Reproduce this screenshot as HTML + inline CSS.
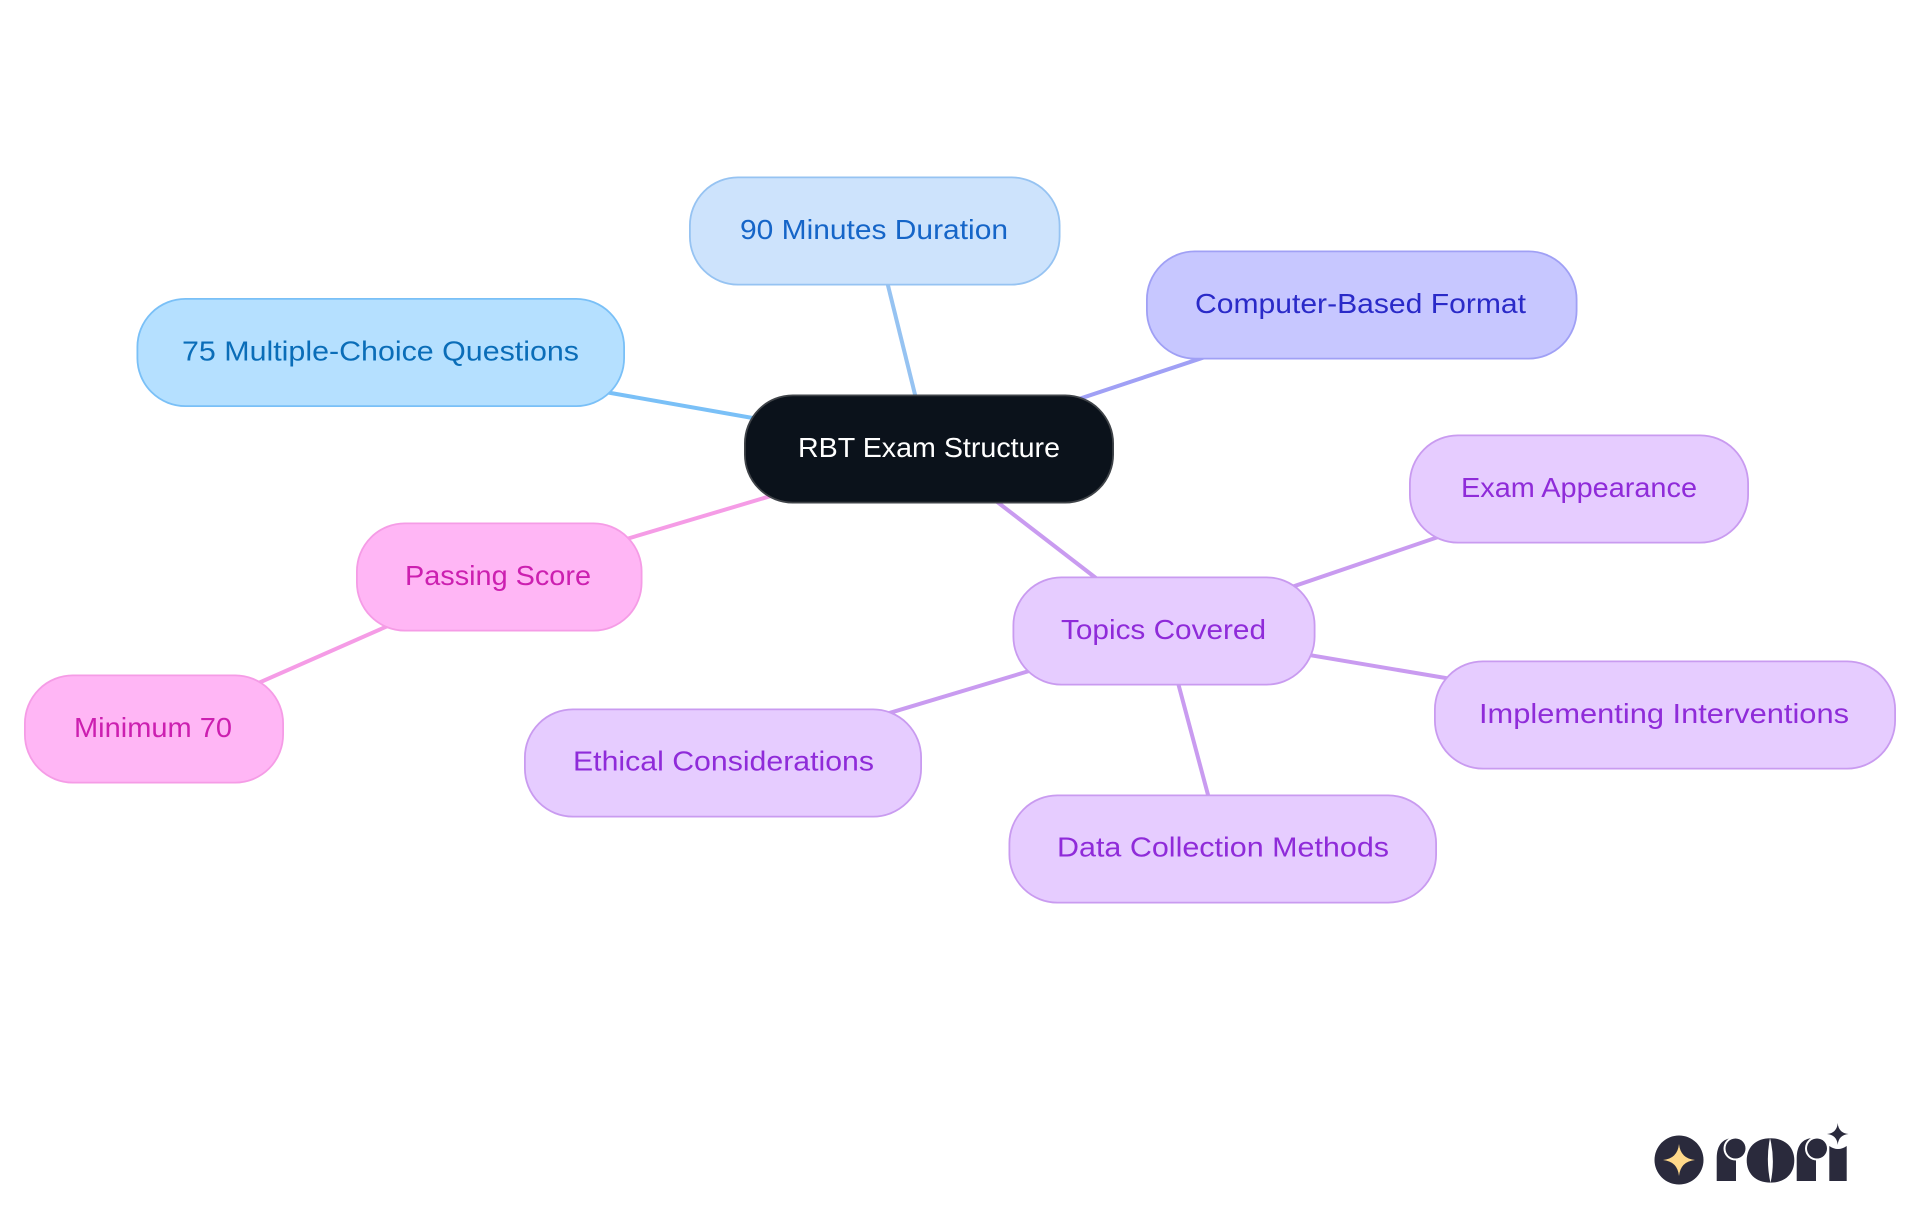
<!DOCTYPE html>
<html>
<head>
<meta charset="utf-8">
<style>
html,body{margin:0;padding:0;background:#fff;width:1920px;height:1215px;overflow:hidden}
svg{display:block}
text{font-family:"Liberation Sans",sans-serif;font-size:28px}
</style>
</head>
<body>
<svg width="1920" height="1215" viewBox="0 0 1920 1215" xmlns="http://www.w3.org/2000/svg">
<rect width="1920" height="1215" fill="#fff"/>
<g fill="none" stroke-width="4">
<line x1="928.5" y1="449" x2="381" y2="352.5" stroke="#7AC0F7"/>
<line x1="928.5" y1="449" x2="874.5" y2="231" stroke="#96C3F2"/>
<line x1="928.5" y1="449" x2="1361.5" y2="305" stroke="#A0A0F5"/>
<line x1="928.5" y1="449" x2="1164" y2="630.5" stroke="#C99BF0"/>
<line x1="928.5" y1="449" x2="499" y2="577" stroke="#F59CE6"/>
<line x1="499" y1="577" x2="154" y2="729" stroke="#F59CE6"/>
<line x1="1164" y1="630.5" x2="1579" y2="489" stroke="#C99BF0"/>
<line x1="1164" y1="630.5" x2="1665" y2="715" stroke="#C99BF0"/>
<line x1="1164" y1="630.5" x2="723" y2="763" stroke="#C99BF0"/>
<line x1="1164" y1="630.5" x2="1222.5" y2="849" stroke="#C99BF0"/>
</g>
<g stroke-width="1.8">
<rect x="744.9" y="395.4" width="368.2" height="107.2" rx="48" fill="#0B121B" stroke="#3F4348"/>
<rect x="137.4" y="298.9" width="486.7" height="107.2" rx="48" fill="#B5E0FF" stroke="#7AC0F7"/>
<rect x="689.9" y="177.4" width="369.7" height="107.2" rx="48" fill="#CDE3FC" stroke="#96C3F2"/>
<rect x="1146.9" y="251.4" width="429.7" height="107.2" rx="48" fill="#C7C7FF" stroke="#A0A0F5"/>
<rect x="356.9" y="523.4" width="284.7" height="107.2" rx="48" fill="#FFB6F5" stroke="#F59CE6"/>
<rect x="24.9" y="675.4" width="258.2" height="107.2" rx="48" fill="#FFB6F5" stroke="#F59CE6"/>
<rect x="1013.4" y="577.4" width="301.2" height="107.2" rx="48" fill="#E6CCFF" stroke="#C99BF0"/>
<rect x="1409.9" y="435.4" width="338.2" height="107.2" rx="48" fill="#E6CCFF" stroke="#C99BF0"/>
<rect x="1434.9" y="661.4" width="460.2" height="107.2" rx="48" fill="#E6CCFF" stroke="#C99BF0"/>
<rect x="524.9" y="709.4" width="396.2" height="107.2" rx="48" fill="#E6CCFF" stroke="#C99BF0"/>
<rect x="1009.4" y="795.4" width="426.7" height="107.2" rx="48" fill="#E6CCFF" stroke="#C99BF0"/>
</g>
<g>
<text x="798" y="457" fill="#FFFFFF" textLength="262" lengthAdjust="spacingAndGlyphs">RBT Exam Structure</text>
<text x="182" y="360.5" fill="#0A6DB8" textLength="397" lengthAdjust="spacingAndGlyphs">75 Multiple-Choice Questions</text>
<text x="740" y="239" fill="#1565C8" textLength="268" lengthAdjust="spacingAndGlyphs">90 Minutes Duration</text>
<text x="1195" y="313" fill="#2A2AC8" textLength="331" lengthAdjust="spacingAndGlyphs">Computer-Based Format</text>
<text x="405" y="585" fill="#CC1FB0" textLength="186" lengthAdjust="spacingAndGlyphs">Passing Score</text>
<text x="74" y="737" fill="#CC1FB0" textLength="158" lengthAdjust="spacingAndGlyphs">Minimum 70</text>
<text x="1061" y="639" fill="#8F2BD9" textLength="205" lengthAdjust="spacingAndGlyphs">Topics Covered</text>
<text x="1461" y="497" fill="#8F2BD9" textLength="236" lengthAdjust="spacingAndGlyphs">Exam Appearance</text>
<text x="1479" y="723" fill="#8F2BD9" textLength="370" lengthAdjust="spacingAndGlyphs">Implementing Interventions</text>
<text x="573" y="770.5" fill="#8F2BD9" textLength="301" lengthAdjust="spacingAndGlyphs">Ethical Considerations</text>
<text x="1057" y="856.5" fill="#8F2BD9" textLength="332" lengthAdjust="spacingAndGlyphs">Data Collection Methods</text>
</g>
<!-- logo -->
<circle cx="1679" cy="1160" r="24.5" fill="#2A2A3C"/>
<path d="M1679 1144 Q1680.5 1158.5 1695 1160 Q1680.5 1161.5 1679 1176 Q1677.5 1161.5 1663 1160 Q1677.5 1158.5 1679 1144Z" fill="#FFD98A"/>
<path d="M1716.7 1181 V1158 C1716.7 1146 1722 1138 1734 1138 H1736 V1181Z" fill="#2A2A3C"/>
<circle cx="1735.5" cy="1148.5" r="12" fill="#fff"/>
<circle cx="1735.5" cy="1148.5" r="10" fill="#2A2A3C"/>
<path d="M1770.5 1138.2 C1786 1138.2 1794.3 1148 1794.3 1160.4 C1794.3 1173 1786 1182.6 1770.5 1182.6 C1755 1182.6 1746.7 1173 1746.7 1160.4 C1746.7 1148 1755 1138.2 1770.5 1138.2Z" fill="#2A2A3C"/>
<path d="M1770 1138 Q1765.5 1160 1770.5 1183 Q1775.5 1160 1770 1138Z" fill="#fff"/>
<path d="M1796.7 1181 V1158 C1796.7 1146 1802 1138 1814 1138 H1816 V1181Z" fill="#2A2A3C"/>
<circle cx="1817" cy="1148.5" r="12" fill="#fff"/>
<circle cx="1817" cy="1148.5" r="10" fill="#2A2A3C"/>
<path d="M1829.3 1181 V1146 Q1838 1152 1846.7 1146 V1181Z" fill="#2A2A3C"/>
<path d="M1837.7 1123 Q1838.5 1133 1848.5 1134 Q1838.5 1135 1837.7 1145 Q1836.9 1135 1827 1134 Q1836.9 1133 1837.7 1123Z" fill="#2A2A3C"/>
</svg>
</body>
</html>
